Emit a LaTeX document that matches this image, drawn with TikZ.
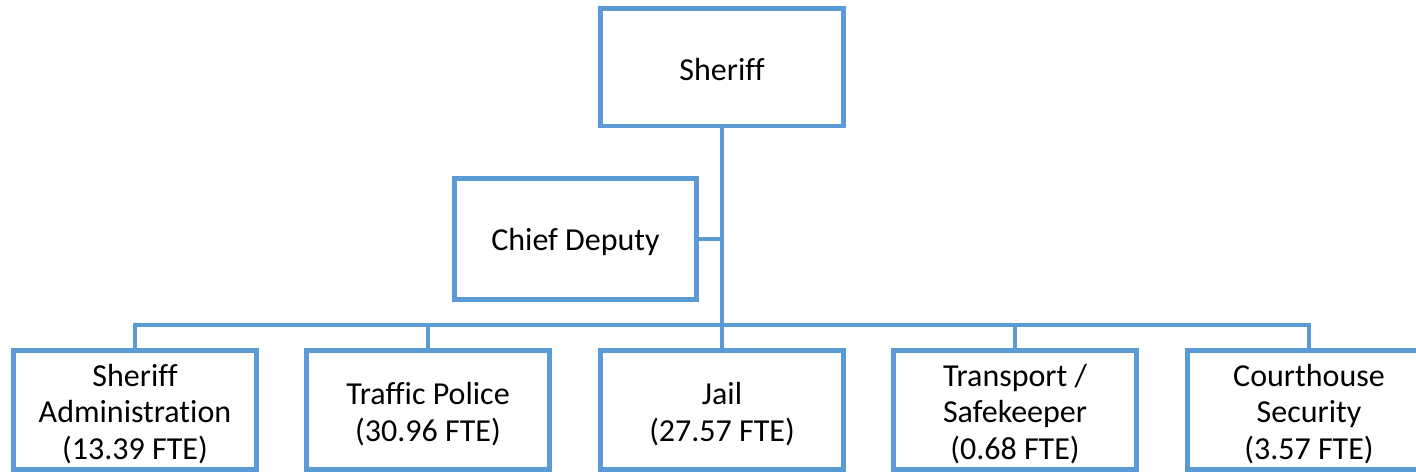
\documentclass[tikz,border=0pt]{standalone}
\usepackage{fontspec}
\setmainfont{Carlito}[Ligatures=NoCommon]
\usetikzlibrary{backgrounds}
\definecolor{orgblue}{RGB}{91,155,213}
\begin{document}
\begin{tikzpicture}[x=0.75pt,y=-0.75pt,
  box/.style={draw=orgblue,line width=3.5pt,fill=white,inner sep=0pt},
  topbox/.style={box,minimum width=182.25pt,minimum height=88.1pt},
  cdbox/.style={box,minimum width=181.5pt,minimum height=90.75pt},
  unitbox/.style={box,minimum width=182.25pt,minimum height=89.25pt},
  lbl/.style={align=center,inner sep=0pt,font=\fontsize{24}{27.5}\selectfont,text=black},
  conn/.style={draw=orgblue,line width=3.5pt}]
\useasboundingbox (0,0) rectangle (1416,472);
\coordinate (bus) at (722,325);
% boxes
\node[topbox] (sh) at (722,67.2) {};
\node[cdbox] (cd) at (575.5,239) {};
\node[unitbox] (sa) at (135,410) {};
\node[unitbox] (tp) at (428,410) {};
\node[unitbox] (jl) at (722,410) {};
\node[unitbox] (ts) at (1015,410) {};
\node[unitbox] (cs) at (1309,410) {};
% connectors
\begin{scope}[on background layer]
\draw[conn] (sh.south) -- (jl.north);
\draw[conn] (cd.east) -- (cd.east -| sh.south);
\draw[conn] (sa.north) -- (sa.north |- bus) -- (cs.north |- bus) -- (cs.north);
\draw[conn] (tp.north) -- (tp.north |- bus);
\draw[conn] (ts.north) -- (ts.north |- bus);
\end{scope}
% labels
\node[lbl] (sh-t) at ([yshift=-2pt]sh.center) {Sheriff};
\node[lbl] (cd-t) at ([yshift=-2pt]cd.center) {Chief Deputy};
\node[lbl] (sa-t) at ([yshift=-3pt]sa.center) {Sheriff\\Administration\\(13.39 FTE)};
\node[lbl] (tp-t) at ([yshift=-3pt]tp.center) {Traffic Police\\(30.96 FTE)};
\node[lbl] (jl-t) at ([yshift=-3pt]jl.center) {Jail\\(27.57 FTE)};
\node[lbl] (ts-t) at ([yshift=-3pt]ts.center) {Transport /\\Safekeeper\\(0.68 FTE)};
\node[lbl] (cs-t) at ([yshift=-3pt]cs.center) {Courthouse\\Security\\(3.57 FTE)};
\end{tikzpicture}
\end{document}
